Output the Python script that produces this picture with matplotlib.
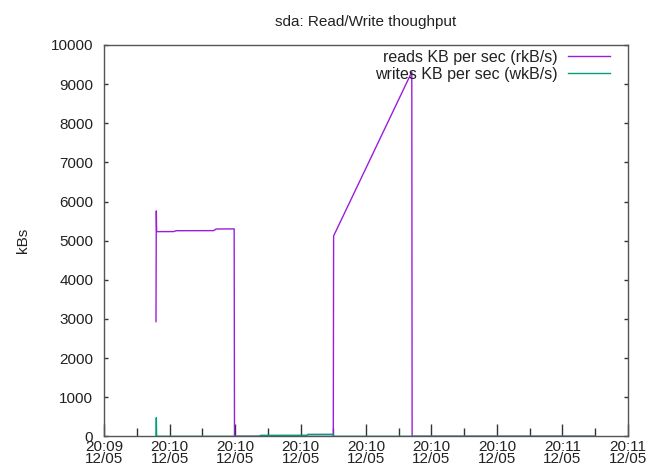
import datetime as dt
import matplotlib
matplotlib.use("Agg")
import matplotlib.pyplot as plt
import matplotlib.dates as mdates

# ---- data (seconds after start, values in kB/s) ----
start = dt.datetime(2020, 12, 5, 20, 9, 50)
x_end_sec = 80

reads_t = [7.9, 7.95, 8.0, 10.6, 11.0, 16.7, 17.1, 19.85, 19.9, 35.0, 35.05, 47.0, 47.05, 75.0]
reads_v = [2930, 5760, 5230, 5232, 5254, 5256, 5298, 5300, 0, 0, 5120, 9310, 0, 0]

writes_t = [7.9, 7.95, 8.0, 23.8, 23.85, 31.0, 31.1, 35.0, 35.05, 75.0]
writes_v = [0, 475, 0, 0, 25, 27, 50, 52, 0, 0]

title = "sda: Read/Write thoughput"
ylabel = "kBs"
reads_label = "reads KB per sec (rkB/s)"
writes_label = "writes KB per sec (wkB/s)"
y_ticks = list(range(0, 10001, 1000))

plt.rcParams['font.family'] = ['Liberation Sans', 'DejaVu Sans']
FS = 11

W, H = 658, 472
fig = plt.figure(figsize=(W / 100, H / 100), dpi=100)
ax = fig.add_axes([104.3 / W, 1 - 436.3 / H, (627.7 - 104.3) / W, (436.3 - 45) / H])

to_dt = lambda ts: [start + dt.timedelta(seconds=s) for s in ts]

ax.plot(to_dt(reads_t), reads_v, color='#9b1ddb', lw=1.0, label=reads_label)
ax.plot(to_dt(writes_t), writes_v, color='#00a078', lw=1.0, label=writes_label)

ax.set_xlim(start, start + dt.timedelta(seconds=x_end_sec))
ax.set_ylim(0, 10000)
ax.set_yticks(y_ticks)

ax.xaxis.set_major_locator(mdates.SecondLocator(bysecond=range(0, 60, 10)))
ax.xaxis.set_minor_locator(mdates.SecondLocator(bysecond=range(5, 60, 10)))
ax.xaxis.set_major_formatter(mdates.DateFormatter('%H:%M\n%m/%d'))

border = '#555555'
for s in ax.spines.values():
    s.set_color(border)
    s.set_linewidth(1.0)

ax.tick_params(axis='x', which='major', direction='in', length=9, width=1, color='#333333',
               labelsize=FS, pad=2.5, labelcolor='#222222')
ax.tick_params(axis='x', which='minor', direction='in', length=6, width=1, color='#333333')
ax.tick_params(axis='y', which='major', direction='in', length=3, width=1, color='#333333',
               labelsize=FS, pad=8, labelcolor='#222222', right=True)
for lbl in ax.get_xticklabels():
    lbl.set_linespacing(0.85)

ax.set_title(title, fontsize=FS, color='#222222', pad=14)
ax.set_ylabel(ylabel, fontsize=FS, color='#222222', labelpad=15)

leg = ax.legend(loc='upper right', bbox_to_anchor=(610 / W, 1 - 50 / H),
                bbox_transform=fig.transFigure, frameon=False, markerfirst=False,
                fontsize=11.5, handlelength=2.6, handletextpad=0.65, labelspacing=0.12,
                borderaxespad=0, borderpad=0)
for t in leg.get_texts():
    t.set_color('#222222')

fig.savefig('out.png', dpi=100)
